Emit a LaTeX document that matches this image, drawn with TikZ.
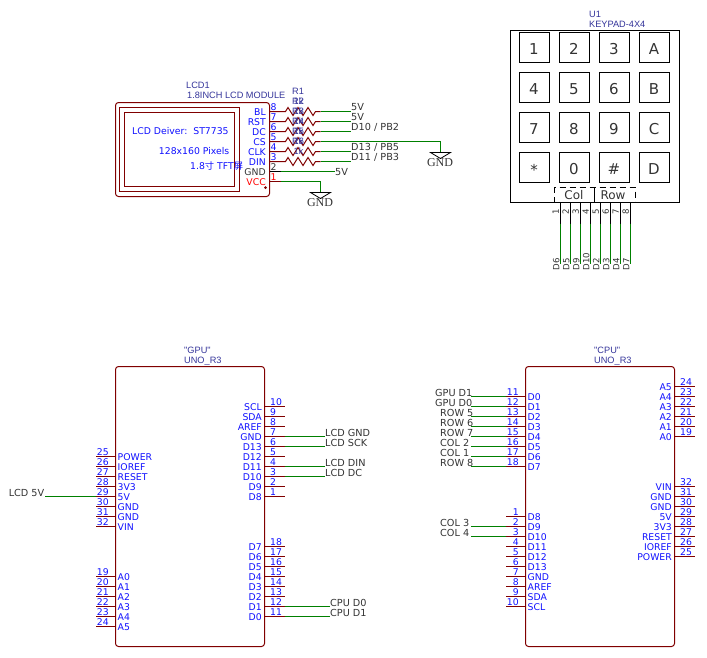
\documentclass[tikz,border=0pt]{standalone}
\usepackage{fontspec}
\setmainfont{DejaVu Sans}
\newfontfamily\titlefont{Liberation Sans}
\newfontfamily\gndfont{Liberation Serif}
\newfontfamily\cjk{Noto Sans CJK SC}

\definecolor{partred}{HTML}{800000}
\definecolor{netgreen}{HTML}{008000}
\definecolor{pinblue}{HTML}{1010FF}
\definecolor{titleblue}{HTML}{333399}
\definecolor{netgray}{HTML}{333333}

\tikzset{
  nudge/.style={xshift=-0.5pt, yshift=1pt},
  body/.style={draw=partred, line width=1pt},
  pinline/.style={draw=partred, line width=1pt},
  wire/.style={draw=netgreen, line width=1pt},
  pintext/.style={nudge, inner sep=0pt, text=pinblue, font=\fontsize{9.3}{10}\selectfont},
  nettext/.style={nudge, inner sep=0pt, text=netgray, font=\fontsize{9.7}{10}\selectfont},
  titletext/.style={nudge, inner sep=0pt, anchor=mid west, text=titleblue, font=\titlefont\fontsize{9.2}{10}\selectfont},
  gndtext/.style={nudge, inner sep=0pt, text=netgray, font=\gndfont\fontsize{12}{12}\selectfont},
  keybox/.style={draw=black, line width=1pt},
  keytext/.style={nudge, inner sep=0pt, anchor=base, text=netgray, font=\fontsize{15}{16}\selectfont},
}

% name, x at the body, y, number, label
\newcommand{\pinright}[5]{
  \coordinate (#1-b) at (#2,#3);
  \coordinate (#1-e) at (#2+20,#3);
  \draw[pinline] (#1-b) -- (#1-e);
  \node[pintext, anchor=mid west] (#1-num) at (#2+6,#3-3) {#4};
  \node[pintext, anchor=mid east] (#1-lab) at (#2-2,#3+2) {#5};
}
\newcommand{\pinleft}[5]{
  \coordinate (#1-b) at (#2,#3);
  \coordinate (#1-e) at (#2-20,#3);
  \draw[pinline] (#1-b) -- (#1-e);
  \node[pintext, anchor=mid east] (#1-num) at (#2-6,#3-3) {#4};
  \node[pintext, anchor=mid west] (#1-lab) at (#2+2.5,#3+2) {#5};
}
\newcommand{\gndmark}[1]{
  \draw[line width=0.8pt] (#1) ++(-10,0) -- ++(20,0) -- ++(-10,6) -- cycle;
}

\begin{document}
\begin{tikzpicture}[x=1pt, y=-1pt]
  \useasboundingbox (-0.5,-0.5) rectangle (706.5,656.5);

  % LCD
  \node[titletext] (lcd-ref) at (186,86) {LCD1};
  \node[titletext] (lcd-val) at (187,96) {1.8INCH LCD MODULE};
  \draw[body, rounded corners=3pt] (115,102) rectangle (269,196);
  \draw[body] (119,107) rectangle (239,191);
  \draw[body] (124,112) rectangle (234,186);
  \node[pintext, anchor=mid west] (lcd-t1) at (132,132) {LCD Deiver:\ \ ST7735};
  \node[pintext, anchor=mid east] (lcd-t2) at (229.5,152) {128x160 Pixels};
  \node[pintext, anchor=mid west] (lcd-t3) at (190,167) {1.8{\cjk 寸} TFT{\cjk 屏}};
  \fill[partred] (265,187) circle (1.5);

  \foreach \n/\t/\r [count=\i from 0, evaluate=\i as \y using 111+10*\i] in {8/BL/1, 7/RST/2, 6/DC/3, 5/CS/4, 4/CLK/5, 3/DIN/6} {
    \coordinate (l-\n-b) at (269,\y);
    \coordinate (r\r-a) at (285,\y);
    \coordinate (r\r-b) at (320,\y);
    \draw[pinline] (l-\n-b) -- (r\r-a) -- ++(2.5,-4) -- ++(5,8) -- ++(5,-8) -- ++(5,8) -- ++(5,-8) -- ++(5,8) -- ++(2.5,-4) -- (r\r-b);
    \node[pintext, anchor=mid west] (l-\n-num) at (270.5,\y-3) {\n};
    \node[pintext, anchor=mid east] (l-\n-lab) at (266,\y+2) {\t};
    \node[titletext, anchor=mid] (r\r-ref) at (298,\y-19) {R\r};
    \node[titletext, anchor=mid] (r\r-val) at (298.5,\y-9) {1k};
  }

  \coordinate (l-2-b) at (269,171);
  \coordinate (l-2-e) at (280,171);
  \coordinate (l-1-b) at (269,181);
  \coordinate (l-1-e) at (280,181);
  \draw[line width=1pt] (l-2-b) -- (l-2-e);
  \draw[pinline] (l-1-b) -- (l-1-e);
  \node[pintext, anchor=mid west, text=netgray] (l-2-num) at (270.5,168) {2};
  \node[pintext, anchor=mid east, text=netgray] (l-2-lab) at (266,173) {GND};
  \node[pintext, anchor=mid west, text=red] (l-1-num) at (270.5,178) {1};
  \node[pintext, anchor=mid east, text=red] (l-1-lab) at (266,183) {VCC};

  \foreach \r/\t/\y in {1/5V/108, 2/5V/118, 3/{D10 / PB2}/128, 5/{D13 / PB5}/148, 6/{D11 / PB3}/158} {
    \node[nettext, anchor=mid west] (net-\r) at (351,\y) {\t};
    \draw[wire] (r\r-b) -- (r\r-b -| net-\r.west);
  }
  \node[nettext, anchor=mid west] (net-vcc) at (335,173) {5V};
  \draw[wire] (l-2-e) -- (l-2-e -| net-vcc.west);

  \coordinate (gnd-a) at (440,152);
  \coordinate (gnd-b) at (320,192);
  \draw[wire] (r4-b) -| (gnd-a);
  \draw[wire] (l-1-e) -| (gnd-b);
  \gndmark{gnd-a}
  \gndmark{gnd-b}
  \node[gndtext] (gnd-a-lab) at (440,163) {GND};
  \node[gndtext] (gnd-b-lab) at (320,203) {GND};

  % keypad
  \node[titletext] (kp-ref) at (589,15) {U1};
  \node[titletext] (kp-val) at (589,25) {KEYPAD-4X4};
  \draw[keybox] (510,30) rectangle (679,202);
  \foreach \r/\y/\ka/\kb/\kc/\kd in {0/32/1/2/3/A, 1/72/4/5/6/B, 2/112/7/8/9/C, 3/152/\raisebox{-1pt}{*}/0/\#/D} {
    \foreach \k/\x/\t in {0/519/\ka, 1/559/\kb, 2/599/\kc, 3/639/\kd} {
      \draw[keybox] (\x,\y) rectangle ++(30,30);
      \node[keytext] (key-\r-\k) at (\x+15,\y+22.5) {\t};
    }
  }
  \draw[line width=1pt, dash pattern=on 6pt off 4pt] (554,202) -- (554,187) -- (635,187) -- (635,202);
  \draw[line width=1pt] (594,187) -- (594,202);
  \node[nettext, font=\fontsize{12}{12}\selectfont] (kp-col) at (574,196) {Col};
  \node[nettext, font=\fontsize{12}{12}\selectfont] (kp-row) at (613,196) {Row};

  \foreach \n/\t [evaluate=\n as \x using 549.7+10*\n] in {1/D6, 2/D5, 3/D9, 4/D10, 5/D2, 6/D3, 7/D4, 8/D7} {
    \coordinate (kp-\n-b) at (\x,202);
    \coordinate (kp-\n-m) at (\x,223);
    \coordinate (kp-\n-e) at (\x,263);
    \draw[line width=1pt] (kp-\n-b) -- (kp-\n-m);
    \draw[wire] (kp-\n-m) -- (kp-\n-e);
    \node[nettext, rotate=90, font=\fontsize{8.6}{10}\selectfont] (kp-\n-num) at (\x-4,212) {\n};
    \node[nettext, rotate=90, anchor=mid west, font=\fontsize{8.6}{10}\selectfont] (kp-\n-net) at (\x-3,271) {\t};
  }

  % GPU
  \node[titletext] (gpu-ref) at (184,351) {"GPU"};
  \node[titletext] (gpu-val) at (184,361) {UNO\_R3};
  \draw[body, rounded corners=3pt] (115,366) rectangle (264,646);

  \foreach \n/\t [count=\i from 0, evaluate=\i as \y using 406+10*\i] in {10/SCL, 9/SDA, 8/AREF, 7/GND, 6/D13, 5/D12, 4/D11, 3/D10, 2/D9, 1/D8} {
    \pinright{g-\n}{264}{\y}{\n}{\t}
  }
  \foreach \n/\t [count=\i from 0, evaluate=\i as \y using 546+10*\i] in {18/D7, 17/D6, 16/D5, 15/D4, 14/D3, 13/D2, 12/D1, 11/D0} {
    \pinright{g-\n}{264}{\y}{\n}{\t}
  }
  \foreach \n/\t [count=\i from 0, evaluate=\i as \y using 456+10*\i] in {25/POWER, 26/IOREF, 27/RESET, 28/3V3, 29/5V, 30/GND, 31/GND, 32/VIN} {
    \pinleft{g-\n}{115}{\y}{\n}{\t}
  }
  \foreach \n/\t [count=\i from 0, evaluate=\i as \y using 576+10*\i] in {19/A0, 20/A1, 21/A2, 22/A3, 23/A4, 24/A5} {
    \pinleft{g-\n}{115}{\y}{\n}{\t}
  }

  \foreach \n/\t/\x/\y in {7/LCD GND/325/434, 6/LCD SCK/325/444, 4/LCD DIN/325/464, 3/LCD DC/325/474, 12/CPU D0/330/604, 11/CPU D1/330/614} {
    \node[nettext, anchor=mid west] (gn-\n) at (\x,\y) {\t};
    \draw[wire] (g-\n-e) -- (g-\n-e -| gn-\n.west);
  }
  \node[nettext, anchor=mid east] (gn-29) at (44.5,494) {LCD 5V};
  \draw[wire] (g-29-e) -- (g-29-e -| gn-29.east);

  % CPU
  \node[titletext] (cpu-ref) at (594,351) {"CPU"};
  \node[titletext] (cpu-val) at (594,361) {UNO\_R3};
  \draw[body, rounded corners=3pt] (525,366) rectangle (674,646);

  \foreach \n/\t [count=\i from 0, evaluate=\i as \y using 396+10*\i] in {11/D0, 12/D1, 13/D2, 14/D3, 15/D4, 16/D5, 17/D6, 18/D7} {
    \pinleft{c-\n}{525}{\y}{\n}{\t}
  }
  \foreach \n/\t [count=\i from 0, evaluate=\i as \y using 516+10*\i] in {1/D8, 2/D9, 3/D10, 4/D11, 5/D12, 6/D13, 7/GND, 8/AREF, 9/SDA, 10/SCL} {
    \pinleft{c-\n}{525}{\y}{\n}{\t}
  }
  \foreach \n/\t [count=\i from 0, evaluate=\i as \y using 386+10*\i] in {24/A5, 23/A4, 22/A3, 21/A2, 20/A1, 19/A0} {
    \pinright{c-\n}{674}{\y}{\n}{\t}
  }
  \foreach \n/\t [count=\i from 0, evaluate=\i as \y using 486+10*\i] in {32/VIN, 31/GND, 30/GND, 29/5V, 28/3V3, 27/RESET, 26/IOREF, 25/POWER} {
    \pinright{c-\n}{674}{\y}{\n}{\t}
  }

  \coordinate (cw) at (470,396);
  \foreach \n/\t/\x/\y in {11/GPU D1/435/394, 12/GPU D0/435/404, 13/ROW 5/440/414, 14/ROW 6/440/424, 15/ROW 7/440/434, 16/COL 2/440/444, 17/COL 1/440/454, 18/ROW 8/440/464, 2/COL 3/440/524, 3/COL 4/440/534} {
    \node[nettext, anchor=mid west] (cn-\n) at (\x,\y) {\t};
    \draw[wire] (c-\n-e) -- (c-\n-e -| cw);
  }
\end{tikzpicture}
\end{document}
